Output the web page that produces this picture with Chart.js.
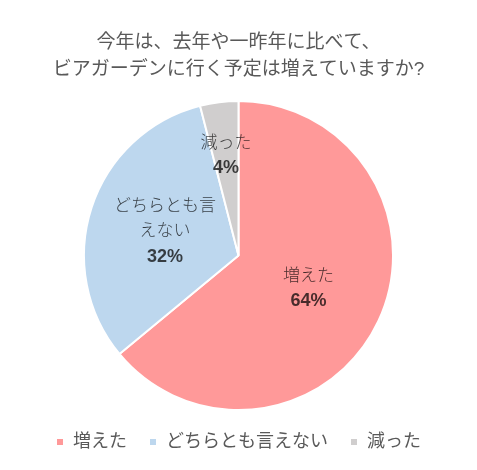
<!DOCTYPE html>
<html>
<head>
<meta charset="utf-8">
<script src="https://cdn.jsdelivr.net/npm/chart.js@4/dist/chart.umd.min.js"></script>
<style>
html,body{margin:0;padding:0;background:#fff;}
#wrap{width:477px;height:470px;position:relative;}
</style>
</head>
<body>
<div id="wrap"><canvas id="c" width="477" height="470"></canvas></div>
<script>
const titleLines = ["今年は、去年や一昨年に比べて、", "ビアガーデンに行く予定は増えていますか?"];
const categories = ["増えた", "どちらとも言えない", "減った"];
const percentValues = [64, 32, 4];
const sliceColors = ["#FF9999", "#BDD7EE", "#D0CECE"];

const FONT = '"Liberation Sans", "Noto Sans CJK JP", sans-serif';

const sliceLabelPlugin = {
  id: 'sliceLabels',
  afterDatasetsDraw(chart) {
    const ctx = chart.ctx;
    const meta = chart.getDatasetMeta(0);
    meta.data.forEach((arc, i) => {
      const p = arc.getProps(['x','y','startAngle','endAngle','outerRadius'], true);
      const mid = (p.startAngle + p.endAngle) / 2;
      const val = chart.data.datasets[0].data[i];
      const f = val < 10 ? 0.65 : 0.5;
      const cx = p.x + Math.cos(mid) * p.outerRadius * f;
      const cy = p.y + Math.sin(mid) * p.outerRadius * f;
      const name = chart.data.labels[i];
      const lines = name.length > 6 ? [name.slice(0, 6), name.slice(6)] : [name];
      const lh = 25;
      const total = lines.length + 1;
      let y0 = cy - (total - 1) * lh / 2;
      ctx.save();
      ctx.textAlign = 'center';
      ctx.textBaseline = 'middle';
      ctx.fillStyle = 'rgba(0,0,0,0.72)';
      ctx.font = '300 17px ' + FONT;
      lines.forEach((ln, k) => ctx.fillText(ln, cx, y0 + k * lh));
      ctx.font = 'bold 18px ' + FONT;
      ctx.fillText(val + '%', cx, y0 + lines.length * lh);
      ctx.restore();
    });
  }
};

new Chart(document.getElementById('c'), {
  type: 'pie',
  data: {
    labels: categories,
    datasets: [{
      data: percentValues,
      backgroundColor: sliceColors,
      borderColor: '#ffffff',
      borderWidth: 2
    }]
  },
  options: {
    responsive: false,
    animation: false,
    layout: { padding: { top: 0, bottom: 9, left: 0, right: 0 } },
    plugins: {
      title: {
        display: true,
        text: titleLines,
        color: '#595959',
        font: { family: FONT, size: 19, weight: 'normal', lineHeight: 1.42 },
        padding: { top: 29, bottom: 17 }
      },
      legend: {
        position: 'bottom',
        labels: {
          color: '#595959',
          font: { family: FONT, size: 18 },
          boxWidth: 8,
          boxHeight: 8,
          padding: 22
        }
      },
      tooltip: { enabled: false }
    }
  },
  plugins: [sliceLabelPlugin]
});
</script>
</body>
</html>
